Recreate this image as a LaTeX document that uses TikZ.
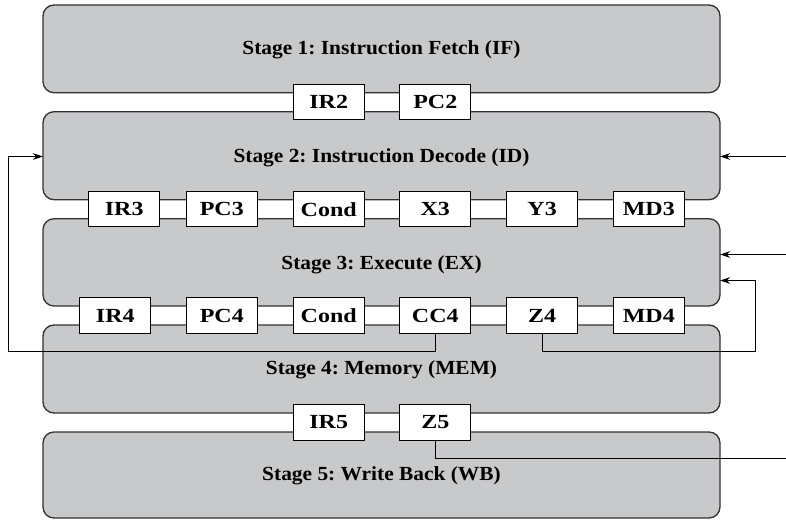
\documentclass[tikz,border=0pt]{standalone}
\usepackage{fontspec}
\setmainfont{Liberation Serif}
\usetikzlibrary{arrows.meta}
\definecolor{stagegray}{RGB}{200,201,203}
\definecolor{edgegray}{RGB}{50,50,50}
\newcommand{\stagetext}[1]{\scalebox{1.07}[1]{#1}}
\newcommand{\regtext}[1]{\scalebox{1.2}[1]{#1}}
\frenchspacing
\begin{document}
\begin{tikzpicture}[x=1pt,y=-1pt,
  stagebox/.style={draw=edgegray,line width=1.3pt,fill=stagegray,rounded corners=11pt},
  stagelabel/.style={font=\fontsize{20}{24}\selectfont\bfseries},
  reg/.style={draw=black,line width=1pt,fill=white,minimum width=71pt,minimum height=35.5pt,
    inner sep=0pt,font=\fontsize{20}{24}\selectfont\bfseries},
  wire/.style={line width=1.1pt,draw=black},
  arr/.style={wire,-{Stealth[length=10pt,width=6.5pt]}}]
\useasboundingbox (0,0) rectangle (786,521);
% pipeline stages
\path[stagebox] (43,5) rectangle (720,92.7);
\path[stagebox] (43,111.7) rectangle (720,199.7);
\path[stagebox] (43,218.7) rectangle (720,306);
\path[stagebox] (43,325) rectangle (720,413);
\path[stagebox] (43,432) rectangle (720,518);
\node[stagelabel] (s1) at (381.5,50) {\stagetext{Stage 1: Instruction Fetch (IF)}};
\node[stagelabel] (s2) at (381.5,157.5) {\stagetext{Stage 2: Instruction Decode (ID)}};
\node[stagelabel] (s3) at (381.5,265) {\stagetext{Stage 3: Execute (EX)}};
\node[stagelabel] (s4) at (381.5,370) {\stagetext{Stage 4: Memory (MEM)}};
\node[stagelabel] (s5) at (381.5,476) {\stagetext{Stage 5: Write Back (WB)}};
% named edge points of the stages
\coordinate (s2w) at (43,156.5);
\coordinate (s2e) at (720,156.5);
\coordinate (s3e) at (720,254.5);
\coordinate (s3f) at (720,280.5);
% pipeline registers
\node[reg] (ir2) at (328.7,102.2) {\regtext{IR2}};
\node[reg] (pc2) at (435.3,102.2) {\regtext{PC2}};
\node[reg] (ir3) at (124.2,209.2) {\regtext{IR3}};
\node[reg] (pc3) at (221.8,209.2) {\regtext{PC3}};
\node[reg] (cond3) at (328.7,209.2) {\regtext{Cond}};
\node[reg] (x3) at (435.3,209.2) {\regtext{X3}};
\node[reg] (y3) at (542.1,209.2) {\regtext{Y3}};
\node[reg] (md3) at (648.8,209.2) {\regtext{MD3}};
\node[reg] (ir4) at (115.3,315.5) {\regtext{IR4}};
\node[reg] (pc4) at (221.8,315.5) {\regtext{PC4}};
\node[reg] (cond4) at (328.7,315.5) {\regtext{Cond}};
\node[reg] (cc4) at (435.3,315.5) {\regtext{CC4}};
\node[reg] (z4) at (542.1,315.5) {\regtext{Z4}};
\node[reg] (md4) at (648.8,315.5) {\regtext{MD4}};
\node[reg] (ir5) at (328.7,422.5) {\regtext{IR5}};
\node[reg] (z5) at (435.3,422.5) {\regtext{Z5}};
% external inputs and free ends
\coordinate (in2) at (786,156.5);
\coordinate (in3) at (786,254.5);
\coordinate (out5) at (786,458.5);
% feedback paths
\draw[arr] (cc4.south) |- (8.5,351.5) |- (s2w);
\draw[arr] (z4.south) |- (755.5,351.5) |- (s3f);
\draw[arr] (in2) -- (s2e);
\draw[arr] (in3) -- (s3e);
\draw[wire] (z5.south) |- (out5);
\end{tikzpicture}
\end{document}
